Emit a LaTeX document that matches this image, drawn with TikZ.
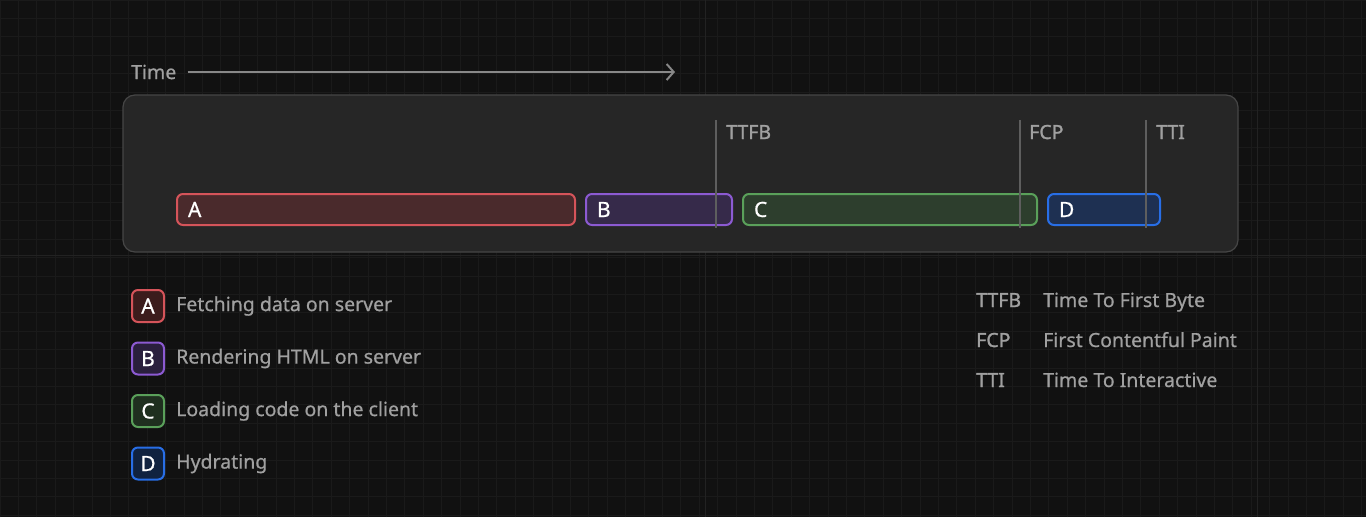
\documentclass[tikz,border=0pt]{standalone}
\usepackage{fontspec}
\setmainfont{Noto Sans}[FakeBold=0.6]
\newfontfamily\markfont{Noto Sans}[FakeBold=1.4]
\usetikzlibrary{positioning,arrows.meta}
\definecolor{bgcol}{HTML}{111111}
\definecolor{gridcol}{HTML}{1A1A1A}
\definecolor{majorcol}{HTML}{222222}
\definecolor{panelcol}{HTML}{262626}
\definecolor{panelline}{HTML}{464646}
\definecolor{textgray}{HTML}{A0A0A0}
\definecolor{markcol}{HTML}{5E5E5E}
\definecolor{redline}{HTML}{D5545A}
\definecolor{redfill}{HTML}{4A2A2C}
\definecolor{redkey}{HTML}{3C1C1C}
\definecolor{purpleline}{HTML}{8C5AD2}
\definecolor{purplefill}{HTML}{362A4A}
\definecolor{purplekey}{HTML}{2A1F3D}
\definecolor{greenline}{HTML}{5AA05A}
\definecolor{greenfill}{HTML}{2D3E2D}
\definecolor{greenkey}{HTML}{1F2F1F}
\definecolor{blueline}{HTML}{286EE6}
\definecolor{bluefill}{HTML}{1E3052}
\definecolor{bluekey}{HTML}{10223F}

\begin{document}
\begin{tikzpicture}[x=1pt,y=-1pt,node distance=18.5pt,
	bar/.style={shape=rectangle, rounded corners=6pt, line width=2pt, minimum height=31pt, inner xsep=11pt, align=left, anchor=north west, text=white, font=\fontsize{21}{21}\selectfont},
	key/.style={shape=rectangle, rounded corners=6pt, line width=2pt, minimum width=32pt, minimum height=32pt, inner sep=0pt, text=white, font=\fontsize{21}{21}\selectfont},
	keytext/.style={inner sep=0pt, text=textgray, font=\fontsize{19.5}{21}\selectfont},
	marklabel/.style={inner sep=0pt, anchor=base west, text=textgray, font=\fontsize{19.5}{21}\selectfont\markfont},
	desctext/.style={inner sep=0pt, anchor=base west, text=textgray, font=\fontsize{19.5}{21}\selectfont},
	markline/.style={draw=markcol, line width=1.5pt}]
	\useasboundingbox (0,0) rectangle (1366,517);
	\fill[bgcol] (0,0) rectangle (1366,517);
	\draw[gridcol, line width=0.8pt, step=18.4pt] (0,517) grid (1366,0);
	\draw[majorcol, line width=1pt] (705,0) -- (705,517) (1257,0) -- (1257,517) (0,255) -- (1366,255);

	\node (time) at (131,72) [anchor=west, inner sep=0pt, text=textgray, font=\fontsize{19.5}{21}\selectfont] {Time};
	\coordinate (timeend) at (675,72);
	\draw [-{Straight Barb[length=7pt,width=16pt]}, line width=2pt, draw=textgray!85!black] ([xshift=11pt]time.east) -- (timeend);

	\draw [fill=panelcol, draw=panelline, line width=1.2pt, rounded corners=12pt] (123,95) rectangle (1238,252);

	\node (a) at (176,193) [bar, draw=redline, fill=redfill, minimum width=398pt, text width=376pt] {A};
	\node (b) at (585,193) [bar, draw=purpleline, fill=purplefill, minimum width=146pt, text width=124pt] {B};
	\node (c) at (742,193) [bar, draw=greenline, fill=greenfill, minimum width=294pt, text width=272pt] {C};
	\node (d) at (1047,193) [bar, draw=blueline, fill=bluefill, minimum width=112pt, text width=90pt] {D};

	\coordinate (ttfbtop) at (716,120);
	\coordinate (ttfbbot) at (716,228);
	\coordinate (fcptop) at (1020,120);
	\coordinate (fcpbot) at (1020,228);
	\coordinate (ttitop) at (1146,120);
	\coordinate (ttibot) at (1146,228);
	\draw [markline] (ttfbtop) -- (ttfbbot);
	\draw [markline] (fcptop) -- (fcpbot);
	\draw [markline] (ttitop) -- (ttibot);
	\node (ttfb) at (726,139) [marklabel] {TTFB};
	\node (fcp) at (1029,139) [marklabel] {FCP};
	\node (tti) at (1156,139) [marklabel] {TTI};

	\node (ka) at (148,306) [key, draw=redline, fill=redkey] {A};
	\node (kb) [below=of ka, key, draw=purpleline, fill=purplekey] {B};
	\node (kc) [below=of kb, key, draw=greenline, fill=greenkey] {C};
	\node (kd) [below=of kc, key, draw=blueline, fill=bluekey] {D};
	\node (ta) [right=11pt of ka, keytext] {Fetching data on server};
	\node (tb) [right=11pt of kb, keytext] {Rendering HTML on server};
	\node (tc) [right=11pt of kc, keytext] {Loading code on the client};
	\node (td) [right=11pt of kd, keytext] {Hydrating};

	\node (lttfb) at (976,307) [marklabel] {TTFB};
	\node (lfcp) at (976,347) [marklabel] {FCP};
	\node (ltti) at (976,387) [marklabel] {TTI};
	\node (dttfb) at (1043,307) [desctext] {Time To First Byte};
	\node (dfcp) at (1043,347) [desctext] {First Contentful Paint};
	\node (dtti) at (1043,387) [desctext] {Time To Interactive};
\end{tikzpicture}
\end{document}
